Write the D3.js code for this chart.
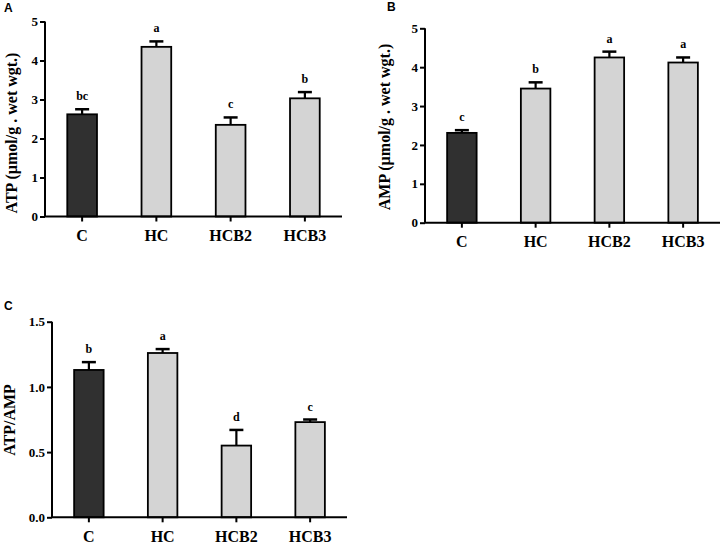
<!DOCTYPE html>
<html>
<head>
<meta charset="utf-8">
<script src="https://cdn.jsdelivr.net/npm/d3@7"></script>
<style>
  html, body { margin: 0; padding: 0; background: #fff; }
  svg { display: block; }
</style>
</head>
<body>
<svg id="chart" width="724" height="544"></svg>
<script>
// ---- data ----
const categories = ["C", "HC", "HCB2", "HCB3"];

const atpMean = [2.62, 4.35, 2.35, 3.03];
const atpErr = [0.13, 0.14, 0.19, 0.16];
const atpLetters = ["bc", "a", "c", "b"];
const atpTicks = [0, 1, 2, 3, 4, 5];

const ampMean = [2.31, 3.45, 4.25, 4.12];
const ampErr = [0.07, 0.16, 0.15, 0.13];
const ampLetters = ["c", "b", "a", "a"];
const ampTicks = [0, 1, 2, 3, 4, 5];

const ratioMean = [1.13, 1.26, 0.55, 0.73];
const ratioErr = [0.06, 0.03, 0.12, 0.02];
const ratioLetters = ["b", "a", "d", "c"];
const ratioTicks = [0, 0.5, 1.0, 1.5];

// ---- drawing ----
const svg = d3.select("#chart");
const SERIF = "'Liberation Serif', 'Times New Roman', serif";
const SANS = "'Liberation Sans', Arial, sans-serif";

function panel(cfg) {
  const g = svg.append("g");
  const x = d3.scaleBand().domain(categories)
    .range([cfg.left, cfg.right]).paddingInner(0.6).paddingOuter(0.3);
  const y = d3.scaleLinear().domain([0, cfg.max]).range([cfg.bottom, cfg.top]);

  const rows = categories.map((c, i) => ({ c, i, m: cfg.mean[i], e: cfg.err[i], l: cfg.letters[i] }));

  // bars
  g.selectAll("rect.bar").data(rows).enter().append("rect")
    .attr("x", d => x(d.c))
    .attr("y", d => y(d.m))
    .attr("width", x.bandwidth())
    .attr("height", d => y(0) - y(d.m))
    .attr("fill", d => d.i === 0 ? "#303030" : "#d4d4d4")
    .attr("stroke", "#000")
    .attr("stroke-width", 1.8);

  // error bars (upper only)
  const cap = 7;
  const eg = g.selectAll("g.err").data(rows).enter().append("g");
  eg.append("line")
    .attr("x1", d => x(d.c) + x.bandwidth() / 2)
    .attr("x2", d => x(d.c) + x.bandwidth() / 2)
    .attr("y1", d => y(d.m))
    .attr("y2", d => y(d.m + d.e))
    .attr("stroke", "#000").attr("stroke-width", 2.2);
  eg.append("line")
    .attr("x1", d => x(d.c) + x.bandwidth() / 2 - cap)
    .attr("x2", d => x(d.c) + x.bandwidth() / 2 + cap)
    .attr("y1", d => y(d.m + d.e))
    .attr("y2", d => y(d.m + d.e))
    .attr("stroke", "#000").attr("stroke-width", 2.5);

  // significance letters
  g.selectAll("text.sig").data(rows).enter().append("text")
    .attr("x", d => x(d.c) + x.bandwidth() / 2)
    .attr("y", d => y(d.m + d.e) - 9)
    .attr("text-anchor", "middle")
    .attr("font-family", SERIF).attr("font-weight", "bold").attr("font-size", 12)
    .text(d => d.l);

  // y axis
  const ya = g.append("g").attr("transform", `translate(${cfg.left},0)`)
    .call(d3.axisLeft(y).tickValues(cfg.ticks).tickFormat(cfg.fmt).tickSize(5).tickPadding(2));
  ya.select(".domain").attr("stroke-width", 2).attr("d", `M-0,${cfg.top}V${cfg.bottom}`);
  ya.selectAll(".tick line").attr("stroke-width", 2);
  ya.selectAll(".tick text")
    .attr("font-family", SERIF).attr("font-weight", "bold").attr("font-size", 13).attr("fill", "#000");

  // x axis
  const xa = g.append("g").attr("transform", `translate(0,${cfg.bottom})`)
    .call(d3.axisBottom(x).tickSize(5).tickPadding(8));
  xa.select(".domain").attr("stroke-width", 2).attr("d", `M${cfg.left},0H${cfg.right}`);
  xa.selectAll(".tick line").attr("stroke-width", 2);
  xa.selectAll(".tick text")
    .attr("font-family", SERIF).attr("font-weight", "bold").attr("font-size", 16).attr("fill", "#000");

  // y title
  g.append("text")
    .attr("transform", `translate(${cfg.titleX},${cfg.titleY}) rotate(-90)`)
    .attr("text-anchor", "middle")
    .attr("font-family", SERIF).attr("font-weight", "bold").attr("font-size", 16)
    .text(cfg.title);

  // panel letter
  g.append("text")
    .attr("x", cfg.tagX).attr("y", cfg.tagY)
    .attr("font-family", SANS).attr("font-weight", "bold").attr("font-size", 12)
    .text(cfg.tag);
}

panel({
  tag: "A", tagX: 4, tagY: 12,
  left: 45, right: 342, top: 21.5, bottom: 216.5, max: 5,
  mean: atpMean, err: atpErr, letters: atpLetters, ticks: atpTicks, fmt: d3.format("d"),
  title: "ATP (µmol/g . wet wgt.)", titleX: 16.5, titleY: 133
});

panel({
  tag: "B", tagX: 387, tagY: 10.5,
  left: 425, right: 720, top: 28.3, bottom: 222.7, max: 5,
  mean: ampMean, err: ampErr, letters: ampLetters, ticks: ampTicks, fmt: d3.format("d"),
  title: "AMP (µmol/g . wet wgt.)", titleX: 390, titleY: 127
});

panel({
  tag: "C", tagX: 4, tagY: 310,
  left: 52, right: 347, top: 321.7, bottom: 517.3, max: 1.5,
  mean: ratioMean, err: ratioErr, letters: ratioLetters, ticks: ratioTicks, fmt: d3.format(".1f"),
  title: "ATP/AMP", titleX: 15, titleY: 420
});
</script>
</body>
</html>
